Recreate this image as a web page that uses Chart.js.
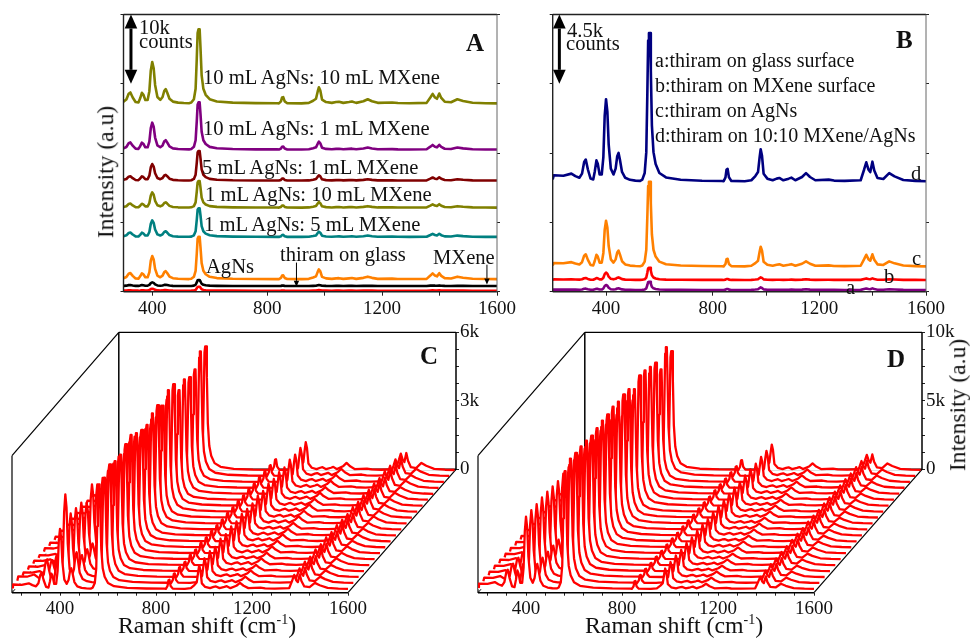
<!DOCTYPE html>
<html>
<head>
<meta charset="utf-8">
<script src="https://cdn.jsdelivr.net/npm/chart.js@4"></script>
<style>
  body { margin: 0; background: #fff; width: 970px; height: 638px; overflow: hidden; position: relative; font-family: "Liberation Serif", serif; color: #111; }
  canvas { position: absolute; }
  .t { position: absolute; font-size: 20.6px; line-height: 1; white-space: nowrap; transform: translateY(-50%); }
  .b { font-size: 20px; }
  .letter { font-size: 25px; font-weight: bold; }
  .title { font-size: 23.8px; }
  .rot { font-size: 23.6px; transform: translate(-50%, -50%) rotate(-90deg); }
  sup { font-size: 14px; line-height: 0; }
</style>
</head>
<body>
<canvas id="chartA" width="440" height="330" style="left:90px;top:0"></canvas>
<canvas id="chartB" width="440" height="330" style="left:530px;top:0"></canvas>
<canvas id="chartC" width="490" height="318" style="left:0;top:320px"></canvas>
<canvas id="chartD" width="490" height="318" style="left:466px;top:320px"></canvas>

<div class="t rot" style="left:106px;top:172px">Intensity (a.u)</div>
<div class="t" style="left:139px;top:27px">10k</div>
<div class="t" style="left:139px;top:41px">counts</div>
<div class="t letter" style="left:466px;top:42px">A</div>
<div class="t" style="left:203px;top:77px">10 mL AgNs: 10 mL MXene</div>
<div class="t" style="left:203px;top:128px">10 mL AgNs: 1 mL MXene</div>
<div class="t" style="left:202px;top:167px">5 mL AgNs: 1 mL MXene</div>
<div class="t" style="left:205px;top:194px">1 mL AgNs: 10 mL MXene</div>
<div class="t" style="left:204px;top:224px">1 mL AgNs: 5 mL MXene</div>
<div class="t" style="left:206px;top:266px">AgNs</div>
<div class="t" style="left:280px;top:254px">thiram on glass</div>
<div class="t" style="left:433px;top:257px">MXene</div>

<div class="t" style="left:567px;top:30px">4.5k</div>
<div class="t" style="left:566px;top:43px">counts</div>
<div class="t letter" style="left:896px;top:39px">B</div>
<div class="t b" style="left:655px;top:60px">a:thiram on glass surface</div>
<div class="t b" style="left:655px;top:85px">b:thiram on MXene surface</div>
<div class="t b" style="left:655px;top:110px">c:thiram on AgNs</div>
<div class="t b" style="left:655px;top:135px">d:thiram on 10:10 MXene/AgNs</div>
<div class="t" style="left:911px;top:173px">d</div>
<div class="t" style="left:912px;top:258px">c</div>
<div class="t" style="left:884px;top:276px">b</div>
<div class="t" style="left:846px;top:287px">a</div>

<div class="t letter" style="left:420px;top:355px">C</div>
<div class="t letter" style="left:887px;top:358px">D</div>
<div class="t title" style="left:118px;top:626px">Raman shift (cm<sup>-1</sup>)</div>
<div class="t title" style="left:585px;top:626px">Raman shift (cm<sup>-1</sup>)</div>
<div class="t rot" style="left:958px;top:405px">Intensity (a.u)</div>

<script>
// band shapes, each relative to the strongest peak of its band
const lowShift = [200,204,240,270,285,300,310,318,324,332,342,352,358,364,369,376,384,390,395,400,405,410,418,428,436,442,447,452,460,472,490,510,528];
const lowRel = [.03,.08,.075,.1,.07,.05,.1,.24,.27,.15,.04,.03,.13,.26,.22,.09,.09,.3,.8,1,.85,.45,.16,.09,.16,.31,.35,.27,.12,.05,.025,.015,.012];
const midShift = [536,545,551,555,558,561,565,568,572,578,586,600,625,680,760,835];
const midRel = [.015,.06,.2,.6,.95,1,1,.75,.38,.2,.12,.06,.03,.014,.008,.006];
const highShift = [841,848,852,856,861,870,920,945,960,970,976,980,985,991,1005,1025,1040,1050,1065,1085,1095,1110,1135,1150,1165,1185,1235,1255,1295,1355,1368,1376,1384,1391,1399,1406,1418,1440,1462,1482,1515,1560,1600];
const highRel = [.02,.14,.38,.4,.14,.03,.02,.05,.18,.3,.75,1,.8,.25,.1,.05,.1,.12,.05,.1,.13,.05,.15,.27,.15,.05,.07,.04,.03,.05,.38,.6,.38,.3,.62,.35,.12,.09,.27,.17,.06,.03,.02];

// panel A, front to back: baseline and the 400 / 560 / 985 peak heights
const baseA = [140, 820, 1780, 7890, 12120, 16020, 20490, 27130];
const peak400A = [290, 530, 3370, 2400, 2210, 2400, 3900, 6010];
const peak560A = [580, 870, 6160, 4140, 3850, 4280, 6830, 10730];
const peak985A = [100, 140, 1440, 770, 820, 770, 1150, 2360];
const coloursA = ['#ff0000', '#000000', '#ff8000', '#008080', '#808000', '#800000', '#800080', '#808000'];

// panel B, traces a to d
const baseB = [110, 760, 1620, 7130];
const peak400B = [325, 480, 2990, 5370];
const peak560B = [540, 800, 5520, 9660];
const peak985B = [170, 170, 1300, 2120];
const coloursB = ['#800080', '#ff0000', '#ff8000', '#000080'];

// panels C and D, 21 acquisitions from the front trace to the back trace
const peak400C = [2650,3900,2800,2780,2760,2500,3040,2780,2800,2850,2900,2950,2800,3050,3050,2750,2850,2800,2850,3100,3100];
const peak560C = [4600,4630,4950,4830,4860,5060,5200,5020,4900,4860,5100,5200,4920,5340,5340,4820,5030,4870,4950,5480,5440];
const peak985C = [1050,1100,1150,1080,1180,1120,1200,1150,1220,1180,1160,1240,1190,1250,1200,1230,1180,1260,1220,1250,1240];
const peak400D = [5300,5350,5350,5400,5400,5350,5300,5400,5450,5500,5450,5500,5450,5250,5500,5500,5400,5350,4800,5500,5100];
const peak560D = [8630,9110,9090,9130,9110,9040,9160,9280,9300,9420,9350,9450,9400,8970,9540,9470,9280,9160,8240,9420,8700];
const peak985D = [1520,1560,1600,1580,1650,1620,1680,1700,1660,1720,1740,1700,1760,1780,1750,1800,1820,1790,1850,1860,1880];

const tickFont = { family: 'Liberation Serif', size: 19 };
const axisColor = '#222';

function spectrum(base, p400, p560, p985, dx = 0) {
  const pts = [];
  lowShift.forEach((s, j) => pts.push({ x: s + dx, y: base + p400 * lowRel[j] }));
  midShift.forEach((s, j) => pts.push({ x: s + dx, y: base + p560 * midRel[j] }));
  highShift.forEach((s, j) => pts.push({ x: s + dx, y: base + p985 * highRel[j] }));
  return pts;
}

function line(ctx, x1, y1, x2, y2, w) {
  ctx.lineWidth = w;
  ctx.beginPath();
  ctx.moveTo(x1, y1);
  ctx.lineTo(x2, y2);
  ctx.stroke();
}

function arrow(ctx, x, y1, y2, w, head, both) {
  // y1 is the tip, y2 the tail (or second tip)
  const dir = y2 > y1 ? 1 : -1;
  ctx.fillStyle = ctx.strokeStyle = '#000';
  line(ctx, x, y1 + dir * head, x, y2 - (both ? dir * head : 0), w);
  const tip = (ty, d) => {
    ctx.beginPath();
    ctx.moveTo(x, ty);
    ctx.lineTo(x - head * 0.45, ty + d * head);
    ctx.lineTo(x + head * 0.45, ty + d * head);
    ctx.fill();
  };
  tip(y1, dir);
  if (both) tip(y2, -dir);
}

function flatPanel(id, xMin, yMax, yStep, base, p400, p560, p985, colours, pad, arrows) {
  const hide = { afterFit(s) { s.width = 6; } };
  new Chart(document.getElementById(id), {
    type: 'scatter',
    data: {
      datasets: base.map((b, i) => ({
        data: spectrum(b, p400[i], p560[i], p985[i]),
        showLine: true,
        borderColor: colours[i],
        borderWidth: 2.6,
        pointRadius: 0,
        borderJoinStyle: 'round'
      }))
    },
    options: {
      responsive: false,
      animation: false,
      layout: { autoPadding: false, padding: pad },
      plugins: { legend: { display: false }, tooltip: { enabled: false } },
      scales: {
        x: {
          type: 'linear', min: xMin, max: 1600,
          afterBuildTicks(s) { s.ticks = [400, 600, 800, 1000, 1200, 1400, 1600].map(v => ({ value: v })); },
          afterFit(s) { s.height = 38.3; },
          border: { display: false },
          grid: { drawOnChartArea: false, tickLength: 4, color: axisColor },
          ticks: { font: tickFont, color: '#111', padding: 2, autoSkip: false, maxRotation: 0,
            callback: v => (v % 400 === 0 ? String(v) : '') }
        },
        y: {
          min: 0, max: yMax, position: 'left', ...hide,
          border: { display: false },
          grid: { drawOnChartArea: false, tickLength: 3, color: axisColor },
          ticks: { display: false, stepSize: yStep }
        },
        y2: {
          min: 0, max: yMax, position: 'right', ...hide,
          border: { display: false },
          grid: { drawOnChartArea: false, tickLength: 3, color: axisColor },
          ticks: { display: false, stepSize: yStep }
        }
      }
    },
    plugins: [{
      id: 'frame',
      afterDatasetsDraw(chart) {
        const { ctx, chartArea: a, scales } = chart;
        ctx.save();
        ctx.strokeStyle = axisColor;
        line(ctx, a.left, a.top, a.right, a.top, 1.4);
        line(ctx, a.left, a.bottom, a.right, a.bottom, 1.4);
        line(ctx, a.left, a.top, a.left, a.bottom, 1.4);
        ctx.strokeStyle = '#666';
        line(ctx, a.right, a.top, a.right, a.bottom, 1);
        arrows.forEach(m => arrow(ctx, scales.x.getPixelForValue(m.x), scales.y.getPixelForValue(m.from),
          scales.y.getPixelForValue(m.to), m.width, m.head, m.both));
        ctx.restore();
      }
    }]
  });
}

function waterfallPanel(id, yTop, yTicks, yLabels, floor, depth, yMin, p400, p560, p985) {
  const xPerTrace = 22.2;
  new Chart(document.getElementById(id), {
    type: 'scatter',
    data: {
      datasets: p560.map((p, i) => ({
        data: spectrum(floor + i * depth, p400[i], p, p985[i], i * xPerTrace),
        showLine: true,
        borderColor: '#ff0000',
        borderWidth: 2.3,
        pointRadius: 0,
        borderJoinStyle: 'round',
        backgroundColor: '#ffffff',
        fill: { value: floor + i * depth }
      }))
    },
    options: {
      responsive: false,
      animation: false,
      layout: { autoPadding: false, padding: { left: 12, top: 10, right: 0, bottom: 0 } },
      plugins: { legend: { display: false }, tooltip: { enabled: false } },
      scales: {
        x: {
          type: 'linear', min: 200, max: 2050,
          afterBuildTicks(s) { s.ticks = [240,320,400,480,560,640,720,800,880,960,1040,1120,1200,1280,1360,1440,1520,1600].map(v => ({ value: v })); },
          afterFit(s) { s.height = 45.3; },
          border: { display: false },
          grid: { drawOnChartArea: false, tickLength: 3, color: axisColor },
          ticks: { font: tickFont, color: '#111', padding: 2, autoSkip: false, maxRotation: 0,
            callback: v => (v % 400 === 0 ? String(v) : '') }
        },
        y: {
          min: yMin, max: yTop, position: 'right',
          afterBuildTicks(s) { s.ticks = yTicks.map(v => ({ value: v })); },
          afterFit(s) { s.width = 34; },
          border: { display: false },
          grid: { drawOnChartArea: false, tickLength: 3, color: axisColor },
          ticks: { font: tickFont, color: '#111', padding: 1, autoSkip: false,
            callback: v => yLabels[v] || '' }
        }
      }
    },
    plugins: [{
      id: 'box',
      beforeDatasetsDraw(chart) {
        const { ctx, chartArea: a, scales } = chart;
        const zero = scales.y.getPixelForValue(0);
        const frontLeft = a.left, frontRight = scales.x.getPixelForValue(1600);
        const backLeft = scales.x.getPixelForValue(200 + 20 * xPerTrace + 1);
        const frontTop = a.bottom - (zero - a.top);
        ctx.save();
        ctx.strokeStyle = '#000';
        line(ctx, frontLeft, a.bottom, frontRight, a.bottom, 1.5);
        line(ctx, frontLeft, a.bottom, frontLeft, frontTop, 1.2);
        line(ctx, frontLeft, frontTop, backLeft, a.top, 1.2);
        line(ctx, backLeft, a.top, a.right, a.top, 1.2);
        line(ctx, backLeft, a.top, backLeft, zero, 1.5);
        line(ctx, a.right, a.top, a.right, zero, 1.5);
        line(ctx, backLeft, zero, a.right, zero, 1.8);
        line(ctx, frontLeft, a.bottom, backLeft, zero, 1);
        line(ctx, frontRight, a.bottom, a.right, zero, 1.2);
        ctx.restore();
      }
    }]
  });
}

flatPanel('chartA', 300, 40000, 10000, baseA, peak400A, peak560A, peak985A, coloursA,
  { left: 27.5, top: 14.5, right: 27, bottom: 0 },
  [{ x: 326, from: 40000, to: 30000, width: 3, head: 14, both: true },
   { x: 902, from: 700, to: 4200, width: 1, head: 6 },
   { x: 1565, from: 1050, to: 3900, width: 1, head: 6 }]);

flatPanel('chartB', 200, 18000, 4500, baseB, peak400B, peak560B, peak985B, coloursB,
  { left: 16.7, top: 14.5, right: 38, bottom: 0 },
  [{ x: 225, from: 18000, to: 13500, width: 3, head: 14, both: true }]);

waterfallPanel('chartC', 6000, [0,750,1500,2250,3000,3750,4500,5250,6000], { 0: '0', 3000: '3k', 6000: '6k' },
  -5250, 260, -5397, peak400C, peak560C, peak985C);
waterfallPanel('chartD', 10000, [0,1250,2500,3750,5000,6250,7500,8750,10000], { 0: '0', 5000: '5k', 10000: '10k' },
  -8750, 434, -8995, peak400D, peak560D, peak985D);
</script>
</body>
</html>
